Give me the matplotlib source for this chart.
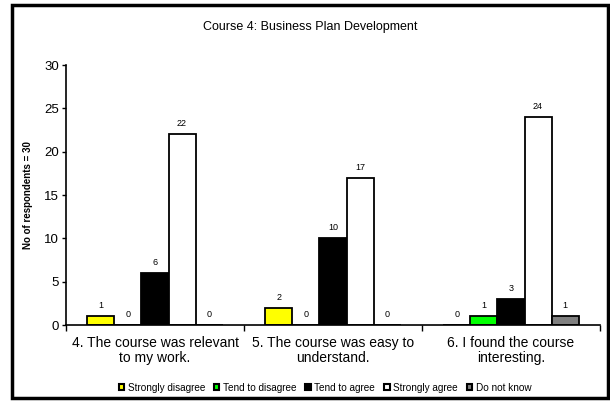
import numpy as np
import matplotlib.pyplot as plt
from matplotlib.patches import Rectangle, Patch

plt.rcParams['font.family'] = ['Liberation Sans', 'DejaVu Sans']

# data
questions = ["4. The course was relevant\nto my work.",
             "5. The course was easy to\nunderstand.",
             "6. I found the course\ninteresting."]
series = ["Strongly disagree", "Tend to disagree", "Tend to agree",
          "Strongly agree", "Do not know"]
strongly_disagree = [1, 2, 0]
tend_disagree = [0, 0, 1]
tend_agree = [6, 10, 3]
strongly_agree = [22, 17, 24]
do_not_know = [0, 0, 1]
colors = ["#FFFF00", "#00FF00", "#000000", "#FFFFFF", "#808080"]

values = [strongly_disagree, tend_disagree, tend_agree, strongly_agree, do_not_know]

fig = plt.figure(figsize=(6.10, 4.01), dpi=100)
ax = fig.add_axes([66/610, 1 - 325/401, 534/610, 260/401])

x = np.arange(len(questions))
width = 0.152
offsets = (np.arange(len(series)) - 2) * width

for i, (name, vals) in enumerate(zip(series, values)):
    bars = ax.bar(x + offsets[i], vals, width, color=colors[i], edgecolor='black',
                  linewidth=1.3, label=name)
    for b, v in zip(bars, vals):
        ax.text(b.get_x() + b.get_width() / 2, v + 0.7, str(v),
                ha='center', va='bottom', fontsize=6.5)

ax.set_xlim(-0.5, 2.5)
ax.set_ylim(0, 30)
ax.set_yticks(range(0, 31, 5))
ax.tick_params(axis='y', labelsize=9.5, length=3, width=1, pad=2)
ax.set_xticks(x)
ax.set_xticklabels(questions, fontsize=10, linespacing=1.05)
ax.tick_params(axis='x', which='major', length=0, pad=8)
ax.set_xticks([-0.5, 0.5, 1.5, 2.5], minor=True)
ax.tick_params(axis='x', which='minor', length=4, width=1, direction='out')
for s in ['top', 'right']:
    ax.spines[s].set_visible(False)
ax.spines['left'].set_linewidth(1.2)
ax.spines['bottom'].set_linewidth(1.2)

ax.set_ylabel("No of respondents = 30", fontsize=7, fontweight='bold', labelpad=8)

fig.text(310/610, 1 - 27/401, "Course 4: Business Plan Development",
         ha='center', va='center', fontsize=9)

handles = [Patch(facecolor=c, edgecolor='black', linewidth=1.5) for c in colors]
fig.legend(handles, series, loc='center', bbox_to_anchor=(325/610, 1 - 388/401),
           ncol=5, frameon=False, fontsize=7.2, handlelength=0.55, handleheight=0.55,
           handletextpad=0.35, columnspacing=0.9)

# outer frame
fig.patches.append(Rectangle((12/610, 3/401), 596/610, 393/401, transform=fig.transFigure,
                             fill=False, edgecolor='black', linewidth=2.5))

fig.savefig("out.png", dpi=100)
